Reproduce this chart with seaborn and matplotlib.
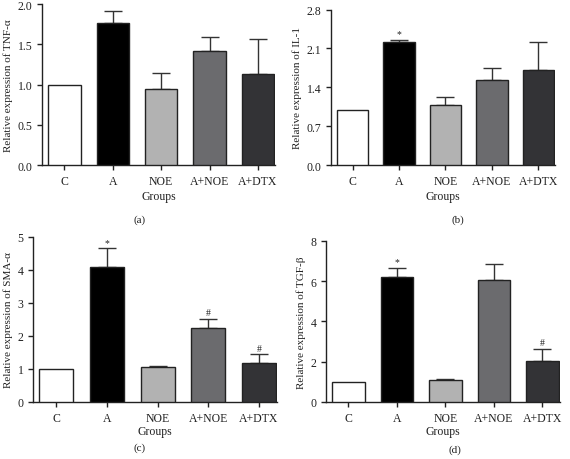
import matplotlib
matplotlib.use("Agg")
import matplotlib.pyplot as plt
import seaborn as sns
import pandas as pd
import numpy as np
from matplotlib.ticker import FormatStrFormatter, MultipleLocator

categories = ["C", "A", "NOE", "A+NOE", "A+DTX"]

tnf_mean = [1.0, 1.77, 0.95, 1.42, 1.13]
tnf_err = [0.0, 0.14, 0.19, 0.17, 0.44]
tnf_marks = ["", "", "", "", ""]

il1_mean = [1.0, 2.21, 1.08, 1.53, 1.71]
il1_err = [0.0, 0.05, 0.15, 0.21, 0.50]
il1_marks = ["", "*", "", "", ""]

sma_mean = [1.0, 4.09, 1.05, 2.25, 1.19]
sma_err = [0.0, 0.56, 0.05, 0.27, 0.25]
sma_marks = ["", "*", "", "#", "#"]

tgf_mean = [1.0, 6.20, 1.07, 6.05, 2.03]
tgf_err = [0.0, 0.48, 0.07, 0.80, 0.61]
tgf_marks = ["", "*", "", "", "#"]

colors = ["#ffffff", "#000000", "#b2b2b2", "#6a6a6f", "#333336"]

sns.set_style("ticks")
plt.rcParams["font.family"] = ["Liberation Serif", "DejaVu Serif"]
plt.rcParams["axes.linewidth"] = 1.0
plt.rcParams["xtick.major.width"] = 1.0
plt.rcParams["ytick.major.width"] = 1.0

fig = plt.figure(figsize=(5.7, 4.6), dpi=100)

panels = [
    dict(rect=[0.074, 0.639, 0.409, 0.350], mean=tnf_mean, err=tnf_err, marks=tnf_marks,
         ylab="Relative expression of TNF-\u03b1", ymax=2.0, step=0.5, fmt="%.1f", tag="(a)",
         tagx=140 / 570, tagy=1 - 220 / 460, grpy=1 - 197 / 460),
    dict(rect=[0.581, 0.639, 0.393, 0.338], mean=il1_mean, err=il1_err, marks=il1_marks,
         ylab="Relative expression of IL-1", ymax=2.8, step=0.7, fmt="%.1f", tag="(b)",
         tagx=458 / 570, tagy=1 - 220 / 460, grpy=1 - 197 / 460),
    dict(rect=[0.058, 0.124, 0.428, 0.359], mean=sma_mean, err=sma_err, marks=sma_marks,
         ylab="Relative expression of SMA-\u03b1", ymax=5, step=1, fmt="%d", tag="(c)",
         tagx=140 / 570, tagy=1 - 448 / 460, grpy=1 - 432 / 460),
    dict(rect=[0.572, 0.124, 0.410, 0.350], mean=tgf_mean, err=tgf_err, marks=tgf_marks,
         ylab="Relative expression of TGF-\u03b2", ymax=8, step=2, fmt="%d", tag="(d)",
         tagx=455 / 570, tagy=1 - 450 / 460, grpy=1 - 432 / 460),
]

for p in panels:
    ax = fig.add_axes(p["rect"])
    df = pd.DataFrame({"group": categories, "value": p["mean"]})
    sns.barplot(data=df, x="group", y="value", hue="group", palette=colors,
                order=categories, hue_order=categories, legend=False,
                width=0.67, edgecolor="#222222", linewidth=1.0, ax=ax, zorder=3)
    xs = np.arange(len(categories))
    err = np.array(p["err"])
    mean = np.array(p["mean"])
    mask = err > 0
    ax.errorbar(xs[mask], mean[mask], yerr=[np.zeros(mask.sum()), err[mask]],
                fmt="none", ecolor="#333333", elinewidth=1.0, capsize=6.5,
                capthick=1.0, zorder=2)
    for x, m, e, mk in zip(xs, mean, err, p["marks"]):
        if mk:
            ax.text(x, m + e + p["ymax"] * 0.01, mk, ha="center", va="bottom",
                    fontsize=7, color="#222222")
    ax.set_ylim(0, p["ymax"])
    ax.set_xlim(-0.46, 4.36)
    ax.yaxis.set_major_locator(MultipleLocator(p["step"]))
    ax.yaxis.set_major_formatter(FormatStrFormatter(p["fmt"]))
    ax.set_xlabel("")
    ax.set_ylabel(p["ylab"], fontsize=8, color="#222222", labelpad=3)
    ax.tick_params(axis="both", labelsize=8.5, length=3.5, colors="#222222")
    sns.despine(ax=ax)
    for s in ["left", "bottom"]:
        ax.spines[s].set_color("#222222")
    cx = p["rect"][0] + p["rect"][2] * 0.5
    fig.text(cx, p["grpy"], "Groups", ha="center", va="center", fontsize=8.5, color="#222222")
    fig.text(p["tagx"], p["tagy"], p["tag"], ha="center", va="center", fontsize=8, color="#222222")

fig.savefig("out.png", dpi=100, facecolor="white")
